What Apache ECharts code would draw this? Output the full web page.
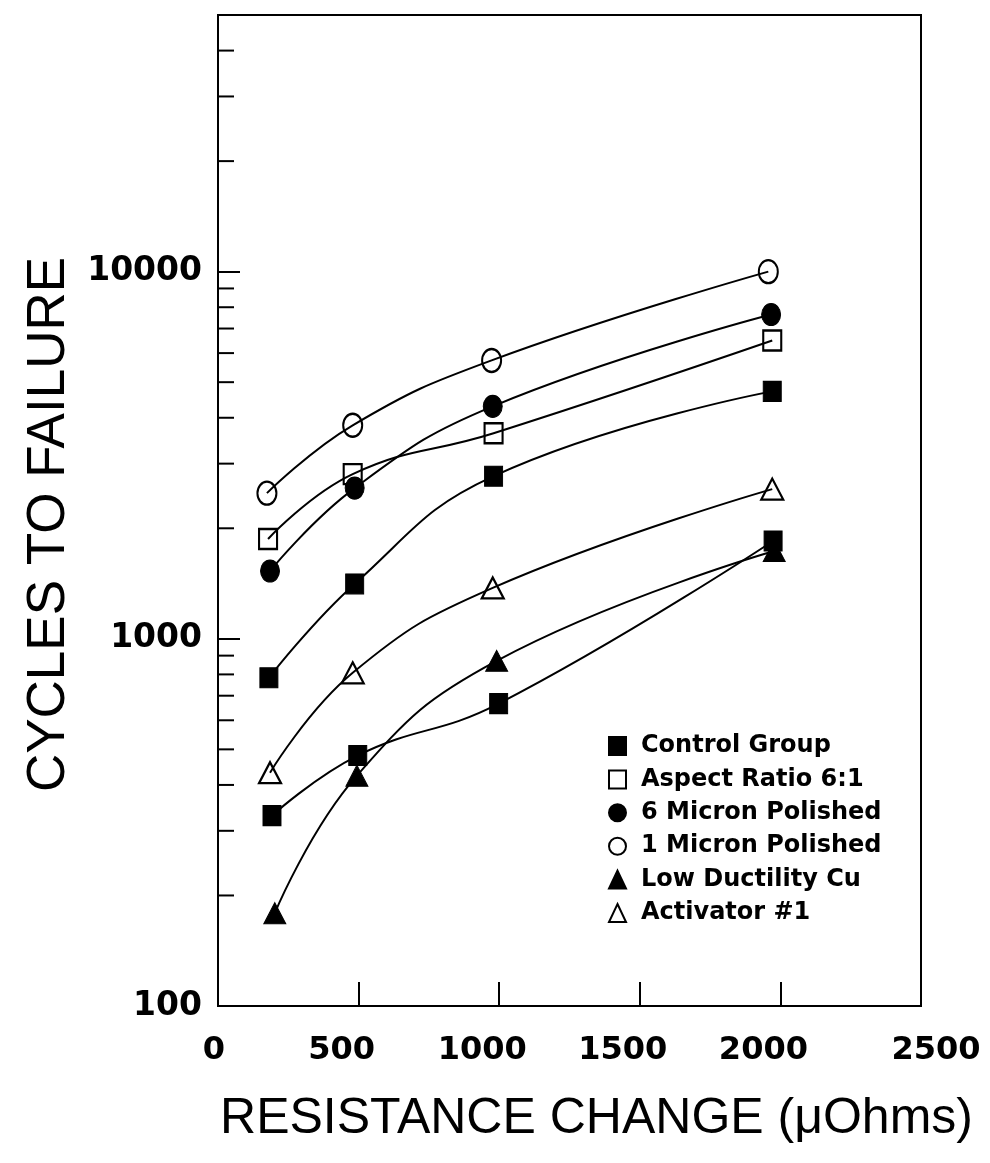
<!DOCTYPE html>
<html>
<head>
<meta charset="utf-8">
<script src="https://cdn.jsdelivr.net/npm/echarts@6/dist/echarts.min.js"></script>
<style>
html,body{margin:0;padding:0;background:#fff;}
#chart{width:990px;height:1163px;}
</style>
</head>
<body>
<div id="chart"></div>
<script>
// ---- data ----
const legendNames = ['Control Group', 'Aspect Ratio 6:1', '6 Micron Polished', '1 Micron Polished', 'Low Ductility Cu', 'Activator #1'];

const controlX   = [181, 486, 980, 1971];
const controlY   = [783, 1411, 2773, 4720];
const control2X  = [192, 497, 998, 1974];
const control2Y  = [330, 481, 666, 1847];
const aspectX    = [178, 479, 980, 1971];
const aspectY    = [1870, 2808, 3630, 6494];
const micron6X   = [185, 486, 977, 1967];
const micron6Y   = [1530, 2573, 4297, 7641];
const micron1X   = [174, 479, 973, 1957];
const micron1Y   = [2493, 3815, 5731, 10000];
const lowDuctX   = [202, 494, 991, 1978];
const lowDuctY   = [179, 424, 871, 1734];
const activX     = [185, 479, 977, 1971];
const activY     = [432, 808, 1376, 2557];

const xTickLabels = ['0', '500', '1000', '1500', '2000', '2500'];
const yTickLabels = ['100', '1000', '10000'];
const yMinorTicks = [200, 300, 400, 500, 600, 700, 800, 900, 2000, 3000, 4000, 5000, 6000, 7000, 8000, 9000, 20000, 30000, 40000];

function pairs(xs, ys) { return xs.map((x, i) => [x, ys[i]]); }

const filled = { color: '#000', borderColor: '#000', borderWidth: 1 };
const hollow = { color: 'rgba(0,0,0,0)', borderColor: '#000', borderWidth: 2.2 };

function lineSeries(name, data, symbol, size, style) {
  return {
    type: 'line', name: name, data: data, smooth: 0.45,
    symbol: symbol, symbolSize: size, showSymbol: true,
    lineStyle: { color: '#000', width: 2 },
    itemStyle: style,
    emphasis: { disabled: true },
    animation: false, z: 3
  };
}

const chart = echarts.init(document.getElementById('chart'), null, { renderer: 'canvas' });

const option = {
  animation: false,
  backgroundColor: '#fff',
  grid: { left: 218, right: 69, top: 15, bottom: 157, show: true, borderColor: '#000', borderWidth: 2, backgroundColor: 'transparent' },
  legend: {
    orient: 'vertical', left: 603, top: 729, itemGap: 9.4,
    itemWidth: 17, itemHeight: 18,
    data: [
      { name: legendNames[0], icon: 'rect' },
      { name: legendNames[1], icon: 'rect' },
      { name: legendNames[2], icon: 'circle' },
      { name: legendNames[3], icon: 'circle' },
      { name: legendNames[4], icon: 'triangle' },
      { name: legendNames[5], icon: 'triangle' }
    ],
    itemStyle: { borderColor: '#000', borderWidth: 2 },
    textStyle: { fontFamily: 'DejaVu Sans', fontWeight: 'bold', fontSize: 24, color: '#000', lineHeight: 24, padding: [0, 0, 0, 10] },
    selectedMode: false
  },
  xAxis: {
    type: 'value', min: 0, max: 2500, interval: 500,
    name: 'RESISTANCE CHANGE (μOhms)', nameLocation: 'middle', nameGap: 88,
    nameTextStyle: { fontFamily: 'Liberation Sans', fontSize: 50, color: '#000', padding: [0, 0, 0, 54] },
    axisLine: { show: true, lineStyle: { color: '#000', width: 2 } },
    axisTick: { show: true, inside: true, length: 24, lineStyle: { color: '#000', width: 2 } },
    splitLine: { show: false },
    axisLabel: {
      margin: 29, color: '#000',
      formatter: function (v) {
        const s = xTickLabels[Math.round(v / 500)];
        if (s === '2500') return '{b|' + s + '}';
        if (s === '0') return '{c|' + s + '}';
        return '{a|' + s + '}';
      },
      rich: {
        a: { fontFamily: 'DejaVu Sans', fontWeight: 'bold', fontSize: 32, color: '#000', padding: [0, 34, 0, 0] },
        b: { fontFamily: 'DejaVu Sans', fontWeight: 'bold', fontSize: 32, color: '#000', padding: [0, 0, 0, 30] },
        c: { fontFamily: 'DejaVu Sans', fontWeight: 'bold', fontSize: 32, color: '#000', padding: [0, 8, 0, 0] }
      }
    }
  },
  yAxis: {
    type: 'log', logBase: 10, min: 100, max: 50000,
    name: 'CYCLES TO FAILURE', nameLocation: 'middle', nameGap: 141,
    nameTextStyle: { fontFamily: 'Liberation Sans', fontSize: 53, color: '#000', padding: [0, 28, 0, 0] },
    axisLine: { show: true, lineStyle: { color: '#000', width: 2 } },
    axisTick: { show: true, inside: true, length: 22, lineStyle: { color: '#000', width: 2 } },
    splitLine: { show: false },
    minorTick: { show: false },
    axisLabel: {
      margin: 16, color: '#000', fontFamily: 'DejaVu Sans', fontWeight: 'bold', fontSize: 33,
      showMaxLabel: false,
      formatter: function (v) {
        const s = String(Math.round(v));
        return yTickLabels.indexOf(s) >= 0 ? s : '';
      }
    }
  },
  series: [
    {
      type: 'custom', name: 'minorTicks', silent: true, clip: false, z: 2,
      data: yMinorTicks.map(v => [0, v]),
      renderItem: function (params, api) {
        const p = api.coord([0, api.value(1)]);
        return { type: 'line', shape: { x1: p[0], y1: p[1], x2: p[0] + 16, y2: p[1] }, style: { stroke: '#000', lineWidth: 2 } };
      }
    },
    lineSeries(legendNames[3], pairs(micron1X, micron1Y), 'circle', [19, 23], hollow),
    lineSeries(legendNames[2], pairs(micron6X, micron6Y), 'circle', [19, 22], filled),
    lineSeries(legendNames[1], pairs(aspectX, aspectY), 'rect', [18, 20], hollow),
    lineSeries(legendNames[0], pairs(controlX, controlY), 'rect', [18, 20], filled),
    lineSeries(legendNames[5], pairs(activX, activY), 'triangle', [22, 21], hollow),
    lineSeries(legendNames[0], pairs(control2X, control2Y), 'rect', [18, 20], filled),
    lineSeries(legendNames[4], pairs(lowDuctX, lowDuctY), 'triangle', [22, 21], filled)
  ]
};
chart.setOption(option);
</script>
</body>
</html>
